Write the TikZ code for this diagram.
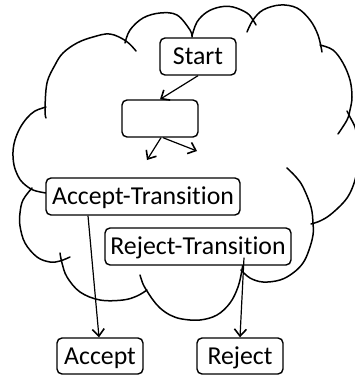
\documentclass[tikz,border=0pt]{standalone}
\usepackage{fontspec}
\setmainfont{Carlito}[Ligatures={NoCommon}]
\usetikzlibrary{arrows.meta}
\begin{document}
\begin{tikzpicture}[x=1pt,y=-1pt,
  lobe/.style={line width=1.5pt, line cap=round},
  box/.style={draw, line width=1.4pt, rounded corners=5pt, fill=white, inner sep=0pt,
    minimum height=37pt, text height=16.6pt, text depth=0pt,
    font=\fontsize{25.8}{30}\selectfont},
  conn/.style={line width=1.2pt, -{Straight Barb[length=7pt,width=12pt,line width=1.6pt]}}]
\useasboundingbox (0,0) rectangle (355,376);
\clip (0,0) rectangle (355,376);
% cloud lobes
\draw[lobe] plot[smooth, tension=0.6] coordinates {(46,118) (45,110) (47,83) (55,65) (63,53) (77,43) (93,37) (110,34) (126,41) (136,51)};
\draw[lobe] plot[smooth, tension=0.6] coordinates {(46,107) (35,111) (27,118) (20,128) (15,140) (13,152) (14,165) (18,176) (23,183) (33,190) (46,193)};
\draw[lobe] plot[smooth, tension=0.6] coordinates {(32,188) (23,200) (20,213) (20,226) (25,243) (37,257) (50,262) (60,261) (70,257)};
\draw[lobe] plot[smooth, tension=0.6] coordinates {(60,253) (62,263) (67,277) (80,292) (100,300) (123,300) (137,296) (147,290)};
\draw[lobe] plot[smooth, tension=0.6] coordinates {(140,275) (143,284) (147,291) (153,300) (160,308) (170,315) (182,319) (200,320) (217,315) (230,303) (238,287) (242,270) (243,260)};
\draw[lobe] plot[smooth, tension=0.6] coordinates {(241,270) (250,278) (263,282) (280,280) (293,273) (303,263) (309,250) (313,235) (313,223) (311,207) (303,187) (296,177) (287,168)};
\draw[lobe] plot[smooth, tension=0.6] coordinates {(311,224) (320,221) (330,215) (343,203) (350,193) (355,180) (358,165) (359,150) (357,137) (355,127) (350,117) (347,111)};
\draw[lobe] plot[smooth, tension=0.6] coordinates {(320,45) (333,50) (343,63) (350,80) (352,97) (350,110) (347,120) (338,134)};
\draw[lobe] plot[smooth, tension=0.6] coordinates {(247,32) (253,20) (263,10) (280,5) (297,8) (310,20) (318,35) (322,52)};
\draw[lobe] plot[smooth, tension=0.6] coordinates {(192,36) (197,22) (207,12) (220,7) (233,7) (247,13) (253,20) (256,25)};
\draw[lobe] plot[smooth, tension=0.6] coordinates {(125,43) (130,30) (143,18) (160,13) (177,15) (190,30) (192,37)};
% nodes
\node[box, minimum width=76pt] (start) at (198,56.5) {Start};
\node[box, minimum width=76pt] (mid) at (160,118.5) {};
\node[box, minimum width=194pt] (at) at (143,196.5) {Accept-Transition};
\node[box, minimum width=186pt] (rt) at (198,246.5) {Reject-Transition};
\node[box, minimum width=86pt, minimum height=36pt] (acc) at (100,356) {Accept};
\node[box, minimum width=86pt, minimum height=36pt] (rej) at (240,356) {Reject};
\coordinate (e1) at (147,160);
\coordinate (e2) at (197,151);
% connectors
\draw[conn] (start.south) -- (mid.north);
\draw[conn] ([xshift=1pt]mid.south) -- (e1);
\draw[conn] ([xshift=3pt]mid.south) -- (e2);
\draw[conn] ([xshift=-55pt]at.south) -- ([xshift=-1pt]acc.north);
\draw[conn] ([xshift=46pt,yshift=8pt]rt.south) -- (rej.north);
\end{tikzpicture}
\end{document}
